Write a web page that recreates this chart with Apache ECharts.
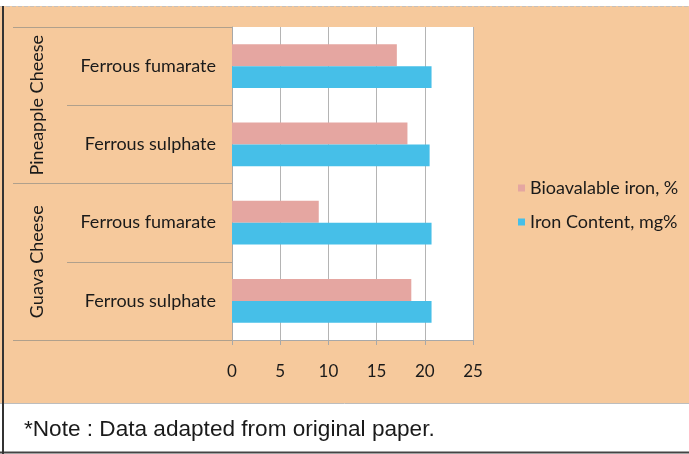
<!DOCTYPE html>
<html>
<head>
<meta charset="utf-8">
<script src="https://cdn.jsdelivr.net/npm/echarts@6/dist/echarts.min.js"></script>
<style>
  html, body { margin: 0; padding: 0; background: #fff; }
  #chart { width: 689px; height: 454px; }
</style>
</head>
<body>
<div id="chart"></div>
<script>
// categories, top to bottom
var cheeses = ['Pineapple Cheese', 'Guava Cheese']
var salts = ['Ferrous fumarate', 'Ferrous sulphate', 'Ferrous fumarate', 'Ferrous sulphate']
var seriesNames = ['Bioavalable iron, %', 'Iron Content, mg%']
var bioavailable = [17.1, 18.2, 9.0, 18.6]
var ironContent = [20.7, 20.5, 20.7, 20.7]
var xTicks = [0, 5, 10, 15, 20, 25]

var labelFont = 'Lato'
var chart = echarts.init(document.getElementById('chart'))

chart.setOption({
  backgroundColor: '#f6c99c',
  animation: false,
  grid: {
    left: 232,
    top: 27,
    right: 216,
    bottom: 114,
    show: true,
    backgroundColor: '#fff',
    borderWidth: 0
  },
  legend: {
    orient: 'vertical',
    left: 513,
    top: 174,
    itemWidth: 7,
    itemHeight: 7,
    itemGap: 16,
    icon: 'rect',
    data: seriesNames,
    textStyle: { fontFamily: labelFont, fontSize: 18, color: '#1a1a1a', padding: [0, 0, 0, 0] }
  },
  xAxis: {
    type: 'value',
    min: xTicks[0],
    max: xTicks[xTicks.length - 1],
    interval: 5,
    axisLine: { show: true, lineStyle: { color: '#a8a8a8' } },
    axisTick: { show: true, length: 5, lineStyle: { color: '#a8a8a8' } },
    splitLine: { show: true, lineStyle: { color: '#b4b4b4', width: 1 } },
    axisLabel: { margin: 23, fontFamily: labelFont, fontSize: 17, color: '#1a1a1a' }
  },
  yAxis: [
    {
      type: 'category',
      inverse: true,
      data: salts,
      axisLine: { show: true, lineStyle: { color: '#a8a8a8' } },
      axisTick: { show: true, interval: 0, length: 165, lineStyle: { color: '#b0a08c' } },
      axisLabel: { interval: 0, margin: 16, fontFamily: labelFont, fontSize: 18, color: '#1a1a1a' }
    },
    {
      type: 'category',
      inverse: true,
      position: 'left',
      data: cheeses,
      axisLine: { show: false },
      axisTick: { show: true, interval: 0, length: 219, lineStyle: { color: '#b0a08c' } },
      axisLabel: { interval: 0, rotate: 90, margin: 186, fontFamily: labelFont, fontSize: 18, color: '#1a1a1a' }
    }
  ],
  series: [
    {
      name: seriesNames[0],
      type: 'bar',
      yAxisIndex: 0,
      data: bioavailable,
      barGap: '0%',
      barCategoryGap: '44%',
      itemStyle: { color: '#e5a6a1' }
    },
    {
      name: seriesNames[1],
      type: 'bar',
      yAxisIndex: 0,
      data: ironContent,
      barGap: '0%',
      barCategoryGap: '44%',
      itemStyle: { color: '#46bfe8' }
    }
  ],
  graphic: [
    { type: 'rect', shape: { x: 0, y: 0, width: 689, height: 6 }, style: { fill: '#fff' } },
    { type: 'line', shape: { x1: 0, y1: 6.5, x2: 689, y2: 6.5 }, style: { stroke: '#c8c0b8', lineWidth: 1, lineDash: [4, 2] } },
    { type: 'rect', shape: { x: 0, y: 403, width: 689, height: 51 }, style: { fill: '#fff' } },
    { type: 'line', shape: { x1: 0, y1: 403.5, x2: 689, y2: 403.5 }, style: { stroke: '#bdbdbd', lineWidth: 1 } },
    { type: 'line', shape: { x1: 0, y1: 452.5, x2: 689, y2: 452.5 }, style: { stroke: '#444', lineWidth: 2 } },
    { type: 'line', shape: { x1: 3, y1: 6, x2: 3, y2: 454 }, style: { stroke: '#333', lineWidth: 2 } },
    {
      type: 'text',
      left: 24,
      top: 418,
      style: {
        text: '*Note : Data adapted from original paper.',
        font: '22.6px "Liberation Sans", Arial, sans-serif',
        fill: '#1a1a1a'
      }
    }
  ]
})
</script>
</body>
</html>
